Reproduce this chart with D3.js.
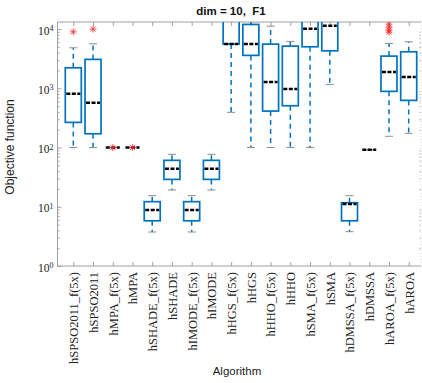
<!DOCTYPE html>
<html>
<head>
<meta charset="utf-8">
<script src="https://cdn.jsdelivr.net/npm/d3@7"></script>
<style>
  body { margin: 0; background: #fff; }
  svg { display: block; }
</style>
</head>
<body>
<div id="chart"></div>
<script>
// box statistics (log scale)
const algorithms = ["hSPSO2011_f(5x)", "hSPSO2011", "hMPA_f(5x)", "hMPA", "hSHADE_f(5x)", "hSHADE",
    "hIMODE_f(5x)", "hIMODE", "hHGS_f(5x)", "hHGS", "hHHO_f(5x)", "hHHO", "hSMA_f(5x)", "hSMA",
    "hDMSSA_f(5x)", "hDMSSA", "hAROA_f(5x)", "hAROA"];
const whiskerLow  = [100, 100, 100, 100, 3.75, 19.2, 3.75, 19.2, 393, 100, 100, 100, 100, 1166, 3.8, 91.8, 155, 174];
const q1Values    = [266, 171, 100, 100, 5.8, 29, 5.8, 29, 5580, 3600, 413, 508, 5030, 4300, 5.8, 91.8, 889, 626];
const medians     = [809, 570, 100, 100, 8.8, 43.9, 8.8, 43.9, 5580, 5580, 1274, 971, 10100, 11370, 11.1, 91.8, 1880, 1549];
const q3Values    = [2222, 3080, 100, 100, 12.2, 60.8, 12.2, 60.8, 16000, 12000, 5580, 5160, 16000, 16000, 11.7, 91.8, 3500, 4140];
const whiskerHigh = [4834, 5650, 100, 100, 15.4, 76.8, 15.4, 76.8, 16000, 16000, 11230, 6200, 16000, 16000, 15.4, 91.8, 5740, 6110];
const outliers    = [[9000], [10000], [100], [100], [], [], [], [], [], [], [], [], [], [], [], [], [8900, 9620, 10800, 12130], []];
const yTicks = [1, 10, 100, 1000, 10000];

const width = 422;
const height = 383;
const plotLeft = 57.5, plotRight = 421, plotTop = 22, plotBottom = 266;

const svg = d3.select("#chart")
    .append("svg")
    .attr("width", width)
    .attr("height", height)
    .style("font-family", "Liberation Sans, Arial, sans-serif");

const x = d3.scalePoint()
    .domain(algorithms)
    .range([73.3, 408.7]);

const y = d3.scaleLog()
    .domain([1, Math.pow(10, 4.12)])
    .range([plotBottom, plotTop]);

const axisColor = "#a0a0a0";
const blue = "#0072BD";

// minor log ticks
const minorTicks = [];
for (let d = 0; d < 4; d++) {
    for (let m = 2; m <= 9; m++) minorTicks.push(m * Math.pow(10, d));
}

svg.append("g")
    .attr("transform", `translate(${plotLeft},0)`)
    .call(d3.axisLeft(y).tickValues(minorTicks).tickSize(-2).tickSizeOuter(0).tickFormat(() => ""))
    .call(g => g.select(".domain").remove())
    .call(g => g.selectAll("line").attr("stroke", axisColor));

svg.append("g")
    .attr("transform", `translate(${plotRight},0)`)
    .call(d3.axisRight(y).tickValues(minorTicks).tickSize(-2).tickSizeOuter(0).tickFormat(() => ""))
    .call(g => g.select(".domain").remove())
    .call(g => g.selectAll("line").attr("stroke", "#c8c8c8"));

// major y ticks with superscript labels
const yAxis = svg.append("g")
    .attr("transform", `translate(${plotLeft},0)`)
    .call(d3.axisLeft(y).tickValues(yTicks).tickSize(-4).tickSizeOuter(0).tickPadding(4).tickFormat(() => ""))
    .call(g => g.select(".domain").remove())
    .call(g => g.selectAll("line").attr("stroke", axisColor));

yAxis.selectAll(".tick text")
    .attr("font-family", "Liberation Serif, Times New Roman, serif")
    .attr("font-size", 11.5)
    .attr("fill", "#222")
    .attr("dy", "0.45em")
    .each(function(d) {
        const t = d3.select(this);
        t.append("tspan").text("10");
        t.append("tspan").attr("dy", "-0.45em").attr("font-size", 8).text(Math.round(Math.log10(d)));
    });

// top and bottom category ticks
svg.append("g")
    .attr("transform", `translate(0,${plotTop})`)
    .call(d3.axisTop(x).tickSize(-4).tickSizeOuter(0).tickFormat(() => ""))
    .call(g => g.select(".domain").remove())
    .call(g => g.selectAll("line").attr("stroke", axisColor));

svg.append("g")
    .attr("transform", `translate(0,${plotBottom})`)
    .call(d3.axisBottom(x).tickSize(-4).tickSizeOuter(0))
    .call(g => g.select(".domain").remove())
    .call(g => g.selectAll("line").attr("stroke", axisColor))
    .call(g => g.selectAll("text")
        .attr("transform", "rotate(-90)")
        .attr("x", -6)
        .attr("y", 0)
        .attr("dy", "0.35em")
        .attr("text-anchor", "end")
        .attr("font-family", "Liberation Serif, Times New Roman, serif")
        .attr("font-size", 12.5)
        .attr("fill", "#222"));

// frame
svg.append("path")
    .attr("d", `M${plotLeft},${plotTop}H${plotRight}M${plotLeft},${plotTop}V${plotBottom}H${plotRight}`)
    .attr("fill", "none")
    .attr("stroke", axisColor)
    .attr("stroke-width", 1);
svg.append("line")
    .attr("x1", plotRight).attr("x2", plotRight)
    .attr("y1", plotTop).attr("y2", plotBottom)
    .attr("stroke", "#ddd")
    .attr("stroke-dasharray", "1,2");

svg.append("clipPath")
    .attr("id", "plot-clip")
    .append("rect")
    .attr("x", plotLeft).attr("y", plotTop)
    .attr("width", plotRight - plotLeft).attr("height", plotBottom - plotTop);

const plot = svg.append("g").attr("clip-path", "url(#plot-clip)");

const boxW = 16;
const capW = 8;

const boxes = plot.selectAll(".box")
    .data(algorithms.map((name, i) => ({
        name,
        lo: whiskerLow[i], q1: q1Values[i], med: medians[i], q3: q3Values[i], hi: whiskerHigh[i],
        out: outliers[i]
    })))
    .enter().append("g")
    .attr("class", "box")
    .attr("transform", d => `translate(${x(d.name)},0)`);

// whiskers
boxes.append("line")
    .attr("y1", d => y(d.q3)).attr("y2", d => y(d.hi))
    .attr("stroke", blue).attr("stroke-width", 1.5).attr("stroke-dasharray", "5,4");
boxes.append("line")
    .attr("y1", d => y(d.q1)).attr("y2", d => y(d.lo))
    .attr("stroke", blue).attr("stroke-width", 1.5).attr("stroke-dasharray", "5,4");

// caps
boxes.append("line")
    .attr("x1", -capW / 2).attr("x2", capW / 2)
    .attr("y1", d => y(d.hi)).attr("y2", d => y(d.hi))
    .attr("stroke", "#8c8c8c").attr("stroke-width", 1);
boxes.append("line")
    .attr("x1", -capW / 2).attr("x2", capW / 2)
    .attr("y1", d => y(d.lo)).attr("y2", d => y(d.lo))
    .attr("stroke", "#8c8c8c").attr("stroke-width", 1);

// box body
boxes.append("rect")
    .attr("x", -boxW / 2)
    .attr("width", boxW)
    .attr("y", d => y(d.q3))
    .attr("height", d => y(d.q1) - y(d.q3))
    .attr("fill", "none")
    .attr("stroke", blue)
    .attr("stroke-width", 1.7);

// median
boxes.append("line")
    .attr("x1", -boxW / 2 + 1).attr("x2", boxW / 2 - 1)
    .attr("y1", d => y(d.med)).attr("y2", d => y(d.med))
    .attr("stroke", "#000").attr("stroke-width", 2.5).attr("stroke-dasharray", "4,1.5");

// outliers as red asterisks
const star = "M-3.5,0H3.5M0,-3.5V3.5M-2.5,-2.5L2.5,2.5M-2.5,2.5L2.5,-2.5";
boxes.selectAll(".outlier")
    .data(d => d.out)
    .enter().append("path")
    .attr("class", "outlier")
    .attr("transform", v => `translate(0,${y(v)})`)
    .attr("d", star)
    .attr("fill", "none")
    .attr("stroke", "#ff2020")
    .attr("stroke-opacity", 0.75)
    .attr("stroke-width", 1);

// titles
svg.append("text")
    .attr("x", 231)
    .attr("y", 15)
    .attr("text-anchor", "middle")
    .attr("font-size", 11.5)
    .attr("font-weight", "bold")
    .attr("fill", "#111")
    .attr("xml:space", "preserve")
    .text("dim = 10,  F1");

svg.append("text")
    .attr("x", 237)
    .attr("y", 375)
    .attr("text-anchor", "middle")
    .attr("font-size", 11.5)
    .attr("fill", "#222")
    .text("Algorithm");

svg.append("text")
    .attr("transform", "translate(14,147) rotate(-90)")
    .attr("text-anchor", "middle")
    .attr("font-size", 12)
    .attr("fill", "#222")
    .text("Objective function");
</script>
</body>
</html>
